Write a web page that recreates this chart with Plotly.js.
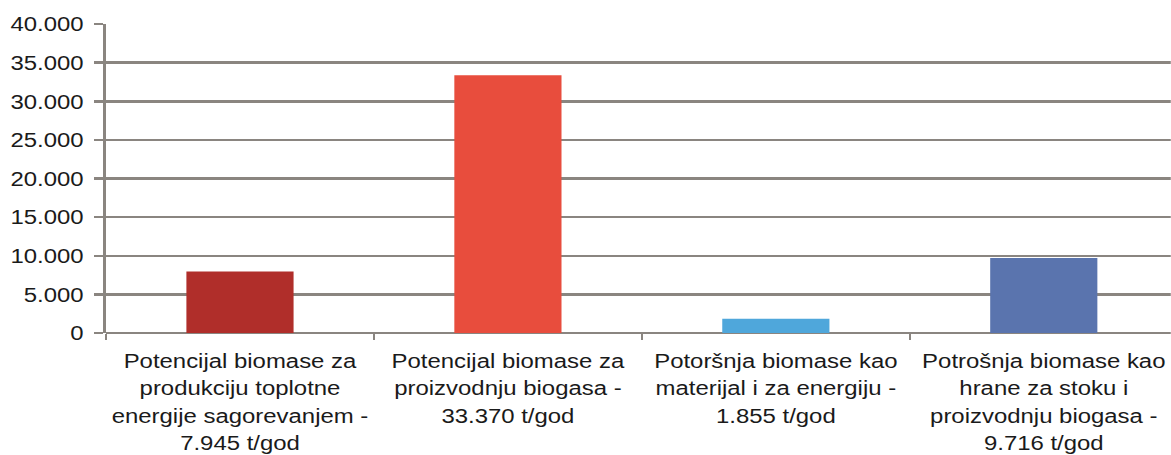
<!DOCTYPE html>
<html>
<head>
<meta charset="utf-8">
<script src="https://cdn.plot.ly/plotly-3.0.1.min.js"></script>
<style>
html,body{margin:0;padding:0;background:#fff;overflow:hidden;}
#wrap{width:1171px;height:455px;overflow:hidden;}
#chart{transform-origin:0 0;}
</style>
</head>
<body>
<div id="wrap"><div id="chart"></div></div>
<script>
const categories = [
  "Potencijal biomase za<br>produkciju toplotne<br>energije sagorevanjem -<br>7.945 t/god",
  "Potencijal biomase za<br>proizvodnju biogasa -<br>33.370 t/god",
  "Potoršnja biomase kao<br>materijal i za energiju -<br>1.855 t/god",
  "Potrošnja biomase kao<br>hrane za stoku i<br>proizvodnju biogasa -<br>9.716 t/god"
];
const values = [7945, 33370, 1855, 9716];
const barColors = ["#B02E2A", "#E84D3D", "#4FA7DB", "#5A74AE"];
const yTicks = [0, 5000, 10000, 15000, 20000, 25000, 30000, 35000, 40000];

// the reference is a horizontally stretched chart; reproduce by scaling the plot in x
const stretch = 1.14;
const W = Math.round(1171 / stretch);
document.getElementById("chart").style.transform = "scaleX(" + stretch + ")";

const trace = {
  type: "bar",
  x: categories,
  y: values,
  width: 0.4,
  marker: {color: barColors},
  hoverinfo: "none"
};

const gridCol = "#8A8580";
const layout = {
  width: W,
  height: 455,
  margin: {l: Math.round(106 / stretch), r: 0, t: 24, b: 122, pad: 0},
  paper_bgcolor: "#ffffff",
  plot_bgcolor: "#ffffff",
  separators: ",.",
  showlegend: false,
  font: {family: "Liberation Sans, Arial, sans-serif", color: "#1a1a1a"},
  xaxis: {
    type: "category",
    range: [-0.5, 3.474],
    tickson: "boundaries",
    ticks: "outside",
    ticklen: 6,
    tickwidth: 2,
    tickcolor: gridCol,
    ticklabelstandoff: 13,
    showline: false,
    showgrid: false,
    tickfont: {size: 21, color: "#1a1a1a"},
    tickangle: 0,
    automargin: false
  },
  yaxis: {
    range: [0, 40000],
    tickvals: yTicks,
    tickformat: ",d",
    ticks: "outside",
    ticklen: 8,
    tickwidth: 2.5,
    tickcolor: gridCol,
    ticklabelstandoff: 5,
    showline: true,
    linecolor: gridCol,
    linewidth: 2.5,
    showgrid: true,
    gridcolor: gridCol,
    gridwidth: 2.5,
    zeroline: true,
    zerolinecolor: gridCol,
    zerolinewidth: 2.5,
    tickfont: {size: 21, color: "#1a1a1a"},
    automargin: false
  }
};

Plotly.newPlot("chart", [trace], layout, {staticPlot: true, displayModeBar: false});
</script>
</body>
</html>
